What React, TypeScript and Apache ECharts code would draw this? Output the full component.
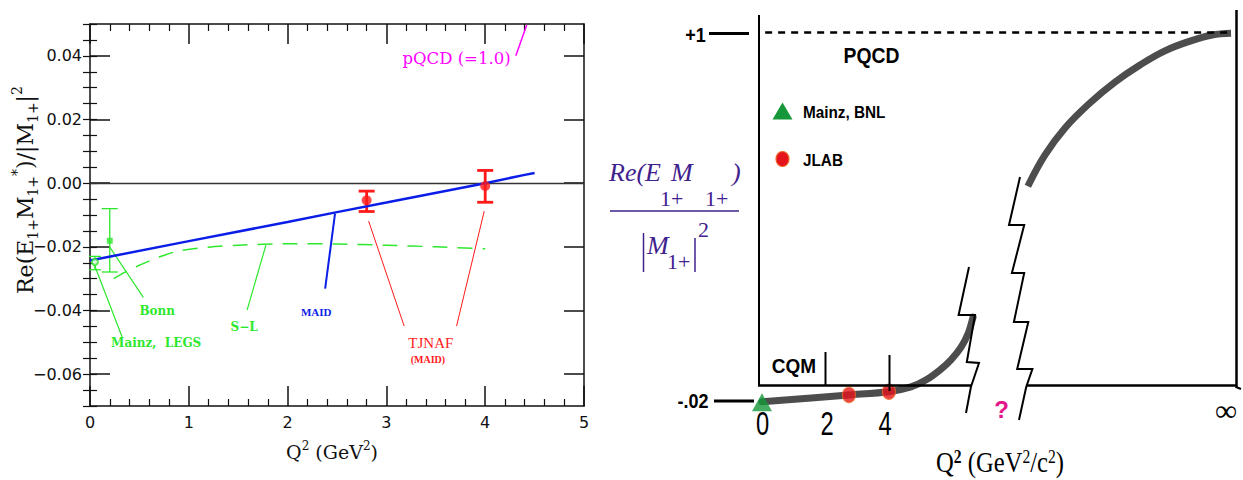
import React, { useEffect, useRef } from "react";
import * as echarts from "echarts";

// ---------- Left panel data (Q^2 in GeV^2, ratio Re(E1+M1+*)/|M1+|^2) ----------
const MAID_Q2 = [0, 1, 2, 2.5, 3, 4, 4.4, 4.5];
const MAID_R = [-0.0243, -0.0182, -0.0122, -0.0091, -0.0061, 0.0, 0.0026, 0.0032];

const SL_Q2 = [0.24, 0.35, 0.5, 0.7, 0.9, 1.2, 1.5, 2, 2.5, 3, 3.5, 4];
const SL_R = [-0.03, -0.028, -0.0258, -0.0232, -0.0213, -0.0201, -0.0195, -0.019, -0.0191, -0.0195, -0.02, -0.0206];

const JLAB_Q2 = [2.8, 4.0];
const JLAB_R = [-0.0054, -0.0009];
const JLAB_LO = [-0.0089, -0.006];
const JLAB_HI = [-0.0025, 0.004];

const BONN_Q2 = [0.2];
const BONN_R = [-0.0181];
const BONN_LO = [-0.0279];
const BONN_HI = [-0.008];

const MAINZ_Q2 = [0.05];
const MAINZ_R = [-0.0248];
const MAINZ_LO = [-0.0272];
const MAINZ_HI = [-0.023];

const PQCD_Q2 = [4.31, 4.42];
const PQCD_R = [0.04, 0.0497];

const Y_MAJOR = [-0.06, -0.04, -0.02, 0, 0.02, 0.04];
const X_TICKS = [0, 1, 2, 3, 4, 5];

// ---------- Right panel (schematic) data ----------
const SCH_LOW_X = [0, 2.76, 4.03, 4.73, 5.2, 5.65, 6.0, 6.32, 6.55, 6.7];
const SCH_LOW_Y = [-0.022, -0.003, 0.006, 0.019, 0.038, 0.066, 0.094, 0.129, 0.168, 0.212];
const SCH_HIGH_X = [8.44, 8.98, 9.62, 10.41, 11.21, 12.0, 12.79, 13.59, 14.29, 14.89];
const SCH_HIGH_Y = [0.574, 0.66, 0.735, 0.804, 0.862, 0.909, 0.948, 0.975, 0.992, 0.997];
const SCH_JLAB_X = [2.76, 4.03];
const SCH_JLAB_Y = [-0.003, 0.006];
const SCH_MAINZ_X = [0];
const SCH_MAINZ_Y = [-0.023];
const SCH_TICK_LABELS = ["0", "2", "4"];

const GREEN = "#2ee82e";
const BLUE = "#0b1ee8";
const RED = "#ff1a1a";
const MAGENTA = "#ff00ff";
const PURPLE = "#3f228e";

const zip = (a: number[], b: number[]) => a.map((v, i) => [v, b[i]]);

function errorBars(xs: number[], lo: number[], hi: number[], color: string, width: number, cap: number) {
  return {
    type: "custom",
    xAxisIndex: 0,
    yAxisIndex: 0,
    z: 4,
    data: xs.map((x, i) => [x, lo[i], hi[i]]),
    encode: { x: 0, y: [1, 2] },
    renderItem: (_p: any, api: any) => {
      const top = api.coord([api.value(0), api.value(2)]);
      const bot = api.coord([api.value(0), api.value(1)]);
      const st = { stroke: color, lineWidth: width };
      return {
        type: "group",
        children: [
          { type: "line", shape: { x1: top[0], y1: top[1], x2: bot[0], y2: bot[1] }, style: st },
          { type: "line", shape: { x1: top[0] - cap, y1: top[1], x2: top[0] + cap, y2: top[1] }, style: st },
          { type: "line", shape: { x1: bot[0] - cap, y1: bot[1], x2: bot[0] + cap, y2: bot[1] }, style: st },
        ],
      };
    },
  };
}

export default function App() {
  const ref = useRef<HTMLDivElement>(null);

  useEffect(() => {
    const chart = echarts.init(ref.current!, null, { renderer: "svg" });

    // annotation leader lines [q1, r1, q2, r2]
    const leaders = [
      { p: [0.2, -0.0201, 0.54, -0.0359], c: GREEN, w: 1.2 },
      { p: [0.04, -0.0253, 0.325, -0.0483], c: GREEN, w: 1.2 },
      { p: [1.78, -0.0195, 1.59, -0.0399], c: GREEN, w: 1.2 },
      { p: [2.48, -0.0096, 2.38, -0.0331], c: BLUE, w: 2 },
      { p: [2.82, -0.0119, 3.18, -0.0449], c: RED, w: 1 },
      { p: [3.99, -0.0088, 3.71, -0.0449], c: RED, w: 1 },
    ];
    const labels = [
      { q: 0.68, r: -0.0402, t: "Bonn", c: GREEN, f: "DejaVu Serif", s: 12, w: "bold" },
      { q: 0.67, r: -0.0502, t: "Mainz,  LEGS", c: GREEN, f: "DejaVu Serif", s: 12, w: "bold" },
      { q: 1.56, r: -0.0451, t: "S\u2212L", c: GREEN, f: "DejaVu Serif", s: 12, w: "bold" },
      { q: 2.29, r: -0.0404, t: "MAID", c: BLUE, f: "Liberation Serif", s: 11, w: "bold" },
      { q: 3.45, r: -0.0503, t: "TJNAF", c: RED, f: "Liberation Serif", s: 15, w: "normal" },
      { q: 3.42, r: -0.0554, t: "(MAID)", c: RED, f: "Liberation Serif", s: 10, w: "bold" },
      { q: 3.71, r: 0.0393, t: "pQCD (=1.0)", c: MAGENTA, f: "DejaVu Serif", s: 16.5, w: "normal" },
    ];

    const axisLineStyle = { color: "#111", width: 1.5 };
    const yMinor: number[] = [];
    for (let i = -14; i <= 10; i++) yMinor.push(+(i * 0.005).toFixed(3));

    const xBase = (pos: string, showLabel: boolean) => ({
      gridIndex: 0,
      type: "value",
      min: 0,
      max: 5,
      interval: 1,
      position: pos,
      axisLine: { show: true, onZero: false, lineStyle: axisLineStyle },
      axisTick: { show: true, inside: true, length: 20, lineStyle: axisLineStyle },
      minorTick: { show: true, splitNumber: 5, length: 7, lineStyle: { color: "#111", width: 1.2 } },
      splitLine: { show: false },
      minorSplitLine: { show: false },
      axisLabel: {
        show: showLabel,
        customValues: X_TICKS,
        fontFamily: "DejaVu Sans",
        fontSize: 16,
        color: "#111",
        margin: 8,
      },
    });
    const yMajorAxis = (pos: string, showLabel: boolean) => ({
      gridIndex: 0,
      type: "value",
      min: -0.07,
      max: 0.05,
      position: pos,
      axisLine: { show: true, onZero: false, lineStyle: axisLineStyle },
      axisTick: { show: true, inside: true, length: 20, customValues: Y_MAJOR, lineStyle: axisLineStyle },
      splitLine: { show: false },
      axisLabel: {
        show: showLabel,
        customValues: Y_MAJOR,
        formatter: (v: number) => (v < -1e-9 ? "\u2212" : "") + Math.abs(v).toFixed(2),
        fontFamily: "DejaVu Sans",
        fontSize: 16,
        color: "#111",
        margin: 8,
      },
    });
    const yMinorAxis = (pos: string) => ({
      gridIndex: 0,
      type: "value",
      min: -0.07,
      max: 0.05,
      position: pos,
      axisLine: { show: false },
      axisTick: { show: true, inside: true, length: 7, customValues: yMinor, lineStyle: { color: "#111", width: 1.2 } },
      splitLine: { show: false },
      axisLabel: { show: false },
    });

    // ---------- graphic helpers for the schematic ----------
    const G: any[] = [];
    const gLine = (x1: number, y1: number, x2: number, y2: number, w: number, color = "#000") =>
      G.push({ type: "line", z: 100, shape: { x1, y1, x2, y2 }, style: { stroke: color, lineWidth: w } });
    const gPoly = (pts: number[][], w: number) =>
      G.push({ type: "polyline", z: 100, shape: { points: pts }, style: { stroke: "#000", lineWidth: w, fill: null } });
    const gText = (x: number, y: number, text: string, o: any) =>
      G.push({
        type: "text",
        z: 100,
        x,
        y,
        scaleX: o.scaleX ?? 1,
        rotation: o.rotation ?? 0,
        style: {
          text,
          fill: o.color ?? "#000",
          fontFamily: o.family ?? "Liberation Sans",
          fontSize: o.size ?? 16,
          fontWeight: o.weight ?? "normal",
          fontStyle: o.style ?? "normal",
          align: o.align ?? "center",
          verticalAlign: o.valign ?? "middle",
          rich: o.rich,
        },
      });

    // left panel axis titles
    gText(25, 190, "{m|Re(E}{s|1+}{m|M}{s|1+}{p|*}{m|)/|M}{s|1+}{m||}{p|2}", {
      rotation: Math.PI / 2,
      family: "DejaVu Serif",
      size: 22,
      color: "#111",
      rich: {
        m: { fontFamily: "DejaVu Serif", fontSize: 22, lineHeight: 30, verticalAlign: "middle", fill: "#111" },
        s: { fontFamily: "DejaVu Serif", fontSize: 14, lineHeight: 14, verticalAlign: "bottom", fill: "#111" },
        p: { fontFamily: "DejaVu Serif", fontSize: 14, lineHeight: 14, verticalAlign: "top", fill: "#111" },
      },
    });
    gText(332, 452, "{m|Q}{p|2}{m| (GeV}{p|2}{m|)}", {
      family: "DejaVu Serif",
      size: 19,
      color: "#111",
      rich: {
        m: { fontFamily: "DejaVu Serif", fontSize: 19, lineHeight: 24, verticalAlign: "middle", fill: "#111" },
        p: { fontFamily: "DejaVu Serif", fontSize: 12, lineHeight: 12, verticalAlign: "top", fill: "#111" },
      },
    });

    // right panel frame
    gLine(759, 15, 759, 386, 2);
    gLine(758, 385.5, 971, 385.5, 2.5);
    gLine(1026, 385.5, 1237, 385.5, 2.5);
    gLine(1236.5, 10, 1236.5, 388, 2.5);
    gLine(1236, 387, 1241, 389, 2);
    gLine(709, 33.5, 749, 33.5, 3);
    gLine(714, 401, 754, 401, 3);
    gLine(825.5, 352, 825.5, 385, 2);
    gLine(889.5, 355, 889.5, 391, 2);
    // axis breaks
    gPoly([[969, 267], [958.6, 315], [975, 315], [966.8, 362], [979, 363], [970.9, 387], [966, 413]], 2);
    gPoly([[1020, 177], [1009, 225], [1024.2, 225], [1011.9, 273], [1024.2, 273], [1013.9, 322], [1028.3, 322], [1017.2, 369], [1032.4, 369], [1026.2, 387], [1019, 420]], 2);

    // right panel texts
    gText(695.5, 35, "+1", { size: 20, weight: "bold", scaleX: 0.9 });
    gText(693, 401, "-.02", { size: 20, weight: "bold", scaleX: 0.9 });
    gText(871.5, 55.5, "PQCD", { size: 22, weight: "bold", scaleX: 0.88 });
    gText(803, 112, "Mainz, BNL", { size: 17, weight: "bold", align: "left", scaleX: 0.9 });
    gText(803, 159.5, "JLAB", { size: 17, weight: "bold", align: "left", scaleX: 0.9 });
    gText(794, 365.5, "CQM", { size: 20, weight: "bold", scaleX: 0.95 });
    gText(1001.5, 409, "?", { size: 24, weight: "bold", color: "#e3168a" });
    gText(1226, 410, "\u221e", { family: "Liberation Serif", size: 31 });
    const tickPx = [762.7, 827, 885];
    SCH_TICK_LABELS.forEach((t, i) => gText(tickPx[i], 424, t, { size: 33, scaleX: 0.72 }));
    gText(1000, 462, "{m|Q}{b|2}{m| (GeV}{p|2}{m|/c}{p|2}{m|)}", {
      family: "Liberation Serif",
      size: 30,
      scaleX: 0.82,
      rich: {
        m: { fontFamily: "Liberation Serif", fontSize: 30, lineHeight: 30, verticalAlign: "middle", fill: "#000" },
        b: { fontFamily: "Liberation Serif", fontSize: 19, fontWeight: "bold", lineHeight: 19, verticalAlign: "top", fill: "#000" },
        p: { fontFamily: "Liberation Serif", fontSize: 19, lineHeight: 19, verticalAlign: "top", fill: "#000" },
      },
    });
    // legend symbols
    G.push({ type: "polygon", z: 100, shape: { points: [[782.5, 102.5], [792.5, 119.5], [772.5, 119.5]] }, style: { fill: "#16983a" } });
    G.push({ type: "ellipse", z: 100, shape: { cx: 782.5, cy: 159, rx: 6.5, ry: 7.5 }, style: { fill: "#e5141c", stroke: "#f0652a", lineWidth: 1.2 } });

    // purple fraction label
    const it = { family: "Liberation Serif", size: 26, style: "italic", color: PURPLE, align: "left" };
    const up = { family: "Liberation Serif", size: 22, color: PURPLE, align: "left" };
    gText(609, 172, "Re(E", it);
    gText(660, 198, "1+", up);
    gText(671, 172, "M", it);
    gText(705, 198, "1+", up);
    gText(732, 172, ")", it);
    gLine(610, 211, 739, 211, 1.6, PURPLE);
    gLine(643.5, 233, 643.5, 272, 1.5, PURPLE);
    gText(647, 245, "M", it);
    gText(667, 261, "1+", up);
    gLine(695, 238, 695, 272, 1.5, PURPLE);
    gText(698, 229, "2", up);

    const option: any = {
      animation: false,
      backgroundColor: "#fff",
      textStyle: { fontFamily: "DejaVu Sans" },
      grid: [
        { left: 90, top: 24, width: 494, height: 382, containLabel: false },
        { left: 762, top: 14, width: 478.8, height: 416, containLabel: false },
      ],
      xAxis: [
        xBase("bottom", true),
        xBase("top", false),
        { gridIndex: 1, type: "value", min: 0, max: 15.2, show: false },
      ],
      yAxis: [
        yMajorAxis("left", true),
        yMinorAxis("left"),
        yMajorAxis("right", false),
        yMinorAxis("right"),
        { gridIndex: 1, type: "value", min: -0.1, max: 1.05, show: false },
      ],
      graphic: G,
      series: [
        {
          name: "MAID",
          type: "line",
          xAxisIndex: 0,
          yAxisIndex: 0,
          data: zip(MAID_Q2, MAID_R),
          showSymbol: false,
          lineStyle: { color: BLUE, width: 2.5 },
          z: 5,
          markLine: {
            silent: true,
            symbol: "none",
            label: { show: false },
            lineStyle: { color: "#333", width: 1.4, type: "solid" },
            data: [{ yAxis: 0 }],
          },
        },
        {
          name: "S-L",
          type: "line",
          xAxisIndex: 0,
          yAxisIndex: 0,
          data: zip(SL_Q2, SL_R),
          smooth: 0.3,
          showSymbol: false,
          lineStyle: { color: GREEN, width: 1.5, type: [15, 10] },
          z: 3,
        },
        {
          name: "pQCD",
          type: "line",
          xAxisIndex: 0,
          yAxisIndex: 0,
          data: zip(PQCD_Q2, PQCD_R),
          showSymbol: false,
          lineStyle: { color: MAGENTA, width: 1.5 },
        },
        errorBars(JLAB_Q2, JLAB_LO, JLAB_HI, RED, 2.8, 8),
        errorBars(BONN_Q2, BONN_LO, BONN_HI, GREEN, 1.3, 8),
        errorBars(MAINZ_Q2, MAINZ_LO, MAINZ_HI, GREEN, 1.3, 6),
        {
          name: "TJNAF",
          type: "scatter",
          xAxisIndex: 0,
          yAxisIndex: 0,
          data: zip(JLAB_Q2, JLAB_R),
          symbol: "circle",
          symbolSize: 10,
          itemStyle: { color: RED },
          z: 6,
        },
        {
          name: "Bonn",
          type: "scatter",
          xAxisIndex: 0,
          yAxisIndex: 0,
          data: zip(BONN_Q2, BONN_R),
          symbol: "rect",
          symbolSize: 6,
          itemStyle: { color: GREEN },
          z: 6,
        },
        {
          name: "Mainz, LEGS",
          type: "scatter",
          xAxisIndex: 0,
          yAxisIndex: 0,
          data: zip(MAINZ_Q2, MAINZ_R),
          symbol: "emptyCircle",
          symbolSize: 6,
          itemStyle: { color: GREEN, borderColor: GREEN, borderWidth: 1.2 },
          z: 6,
        },
        {
          name: "leaders",
          type: "custom",
          xAxisIndex: 0,
          yAxisIndex: 0,
          data: leaders.map((l) => l.p),
          encode: { x: [0, 2], y: [1, 3] },
          renderItem: (p: any, api: any) => {
            const l = leaders[p.dataIndex];
            const a = api.coord([l.p[0], l.p[1]]);
            const b = api.coord([l.p[2], l.p[3]]);
            return { type: "line", shape: { x1: a[0], y1: a[1], x2: b[0], y2: b[1] }, style: { stroke: l.c, lineWidth: l.w } };
          },
        },
        {
          name: "labels",
          type: "custom",
          xAxisIndex: 0,
          yAxisIndex: 0,
          data: labels.map((l) => [l.q, l.r]),
          renderItem: (p: any, api: any) => {
            const l = labels[p.dataIndex];
            const c = api.coord([l.q, l.r]);
            return {
              type: "text",
              x: c[0],
              y: c[1],
              style: {
                text: l.t,
                fill: l.c,
                fontFamily: l.f,
                fontSize: l.s,
                fontWeight: l.w,
                align: "center",
                verticalAlign: "middle",
              },
            };
          },
        },
        // ---------- schematic ----------
        {
          name: "schematic low",
          type: "line",
          xAxisIndex: 2,
          yAxisIndex: 4,
          data: zip(SCH_LOW_X, SCH_LOW_Y),
          smooth: 0.3,
          showSymbol: false,
          lineStyle: { color: "#4d4d4d", width: 7, cap: "round" },
          z: 2,
        },
        {
          name: "schematic high",
          type: "line",
          xAxisIndex: 2,
          yAxisIndex: 4,
          data: zip(SCH_HIGH_X, SCH_HIGH_Y),
          smooth: 0.4,
          showSymbol: false,
          lineStyle: { color: "#4d4d4d", width: 7, cap: "butt" },
          z: 2,
          markLine: {
            silent: true,
            symbol: "none",
            label: { show: false },
            lineStyle: { color: "#000", width: 2.5, type: [7, 6] },
            data: [[{ coord: [0.1, 1] }, { coord: [14.8, 1] }]],
          },
        },
        {
          name: "JLAB",
          type: "scatter",
          xAxisIndex: 2,
          yAxisIndex: 4,
          data: zip(SCH_JLAB_X, SCH_JLAB_Y),
          symbol: "circle",
          symbolSize: [13, 15],
          itemStyle: { color: "#e5141c", borderColor: "#f0652a", borderWidth: 1.2 },
          z: 5,
        },
        {
          name: "Mainz, BNL",
          type: "scatter",
          xAxisIndex: 2,
          yAxisIndex: 4,
          data: zip(SCH_MAINZ_X, SCH_MAINZ_Y),
          symbol: "triangle",
          symbolSize: [20, 18],
          itemStyle: { color: "#16983a" },
          z: 5,
        },
      ],
    };

    chart.setOption(option);
    return () => chart.dispose();
  }, []);

  return (
    <div
      ref={ref}
      style={{ position: "fixed", left: 0, top: 0, width: 1243, height: 480, background: "#fff" }}
    />
  );
}
